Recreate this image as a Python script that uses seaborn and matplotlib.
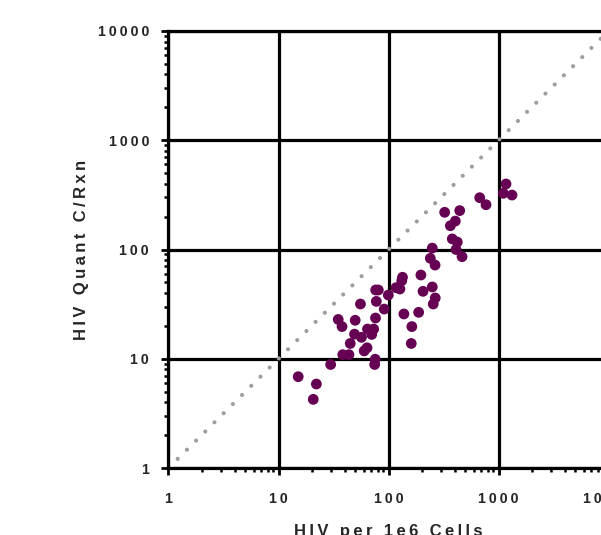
import numpy as np
import pandas as pd
import matplotlib
matplotlib.use("Agg")
import matplotlib.pyplot as plt
from matplotlib import ticker
import seaborn as sns

# ---- data ----
hiv_per_1e6 = [1170, 1106, 1327, 675, 770, 324, 444, 405, 365, 380, 422, 411, 250, 466,
               240, 265, 134, 132, 197, 117, 127, 250, 206, 266, 255, 99.6, 76.5, 80.8,
               77.5, 55.6, 91.4, 76.2, 138, 188, 163, 161, 34.9, 37.8, 49.8, 64.4, 73.3,
               70.4, 49.1, 56.8, 44.9, 63.8, 60.1, 38.4, 43.7, 75.7, 74.9, 29.8, 15.1,
               22.1, 20.7]
hiv_quant_c_rxn = [398, 327, 315, 298, 257, 219, 227, 182, 165, 125, 117, 100, 103, 86,
                   83, 72, 55.7, 51.8, 58.4, 44.7, 43.5, 45.4, 41.4, 36, 31.7, 38.3, 42.6,
                   42.6, 33.5, 31.7, 28.5, 23.6, 25.7, 26.6, 19.7, 13.8, 22.9, 19.7, 22.5,
                   18.7, 18.7, 16.7, 16.8, 15.7, 13.8, 12.6, 11.8, 10.9, 10.9, 9.9, 8.86,
                   8.86, 6.85, 5.87, 4.25]
identity_x = [1, 10000]
identity_y = [1, 10000]
tick_values = [1, 10, 100, 1000, 10000]
tick_labels = ["1", "10", "100", "1000", "10000"]
x_title = "HIV per 1e6 Cells"
y_title = "HIV Quant C/Rxn"

df = pd.DataFrame({"x": hiv_per_1e6, "y": hiv_quant_c_rxn})

sns.set_style("white")
plt.rcParams["font.family"] = ["Liberation Sans", "DejaVu Sans"]

TS = "\u2009"
def spaced(s):
    return TS.join(s)

fig = plt.figure(figsize=(6.01, 5.35), dpi=100)
ax = fig.add_axes([168.5 / 601, 67 / 535, 440 / 601, 437 / 535])

ax.set_xscale("log")
ax.set_yscale("log")

ax.plot(identity_x, identity_y, color="#9e9e9e", lw=3.0,
        linestyle=(0, (0.01, 3.1)), dash_capstyle="round", zorder=2)

sns.scatterplot(data=df, x="x", y="y", ax=ax, color="#650052", s=60,
                edgecolor="none", linewidth=0, zorder=3, legend=False)

ax.set_xlim(1, 10000)
ax.set_ylim(1, 10000)

ax.set_xticks(tick_values)
ax.set_xticklabels([spaced(t) for t in tick_labels], fontsize=10.3, fontweight="bold")
ax.set_yticks(tick_values)
ax.set_yticklabels([spaced(t) for t in tick_labels], fontsize=10.3, fontweight="bold")
for axis in (ax.xaxis, ax.yaxis):
    axis.set_minor_locator(ticker.LogLocator(base=10, subs=np.arange(2, 10)))
    axis.set_minor_formatter(ticker.NullFormatter())

ax.tick_params(which="major", direction="out", length=5, width=2, color="black",
               left=True, bottom=True)
ax.tick_params(axis="x", which="major", pad=12)
ax.tick_params(axis="y", which="major", pad=9)
ax.tick_params(which="minor", direction="out", length=3, width=1.8, color="black",
               left=True, bottom=True)

ax.grid(True, which="major", color="black", lw=2.3)
ax.grid(False, which="minor")
ax.set_axisbelow(True)

for sp in ax.spines.values():
    sp.set_color("black")
    sp.set_linewidth(2.3)

ax.set_xlabel(spaced(x_title), fontsize=12, fontweight="bold")
ax.set_ylabel(spaced(y_title), fontsize=12, fontweight="bold")
ax.xaxis.set_label_coords(0.5, -0.128)
ax.yaxis.set_label_coords(-0.18, 0.5)

fig.savefig("out.png", dpi=100)
